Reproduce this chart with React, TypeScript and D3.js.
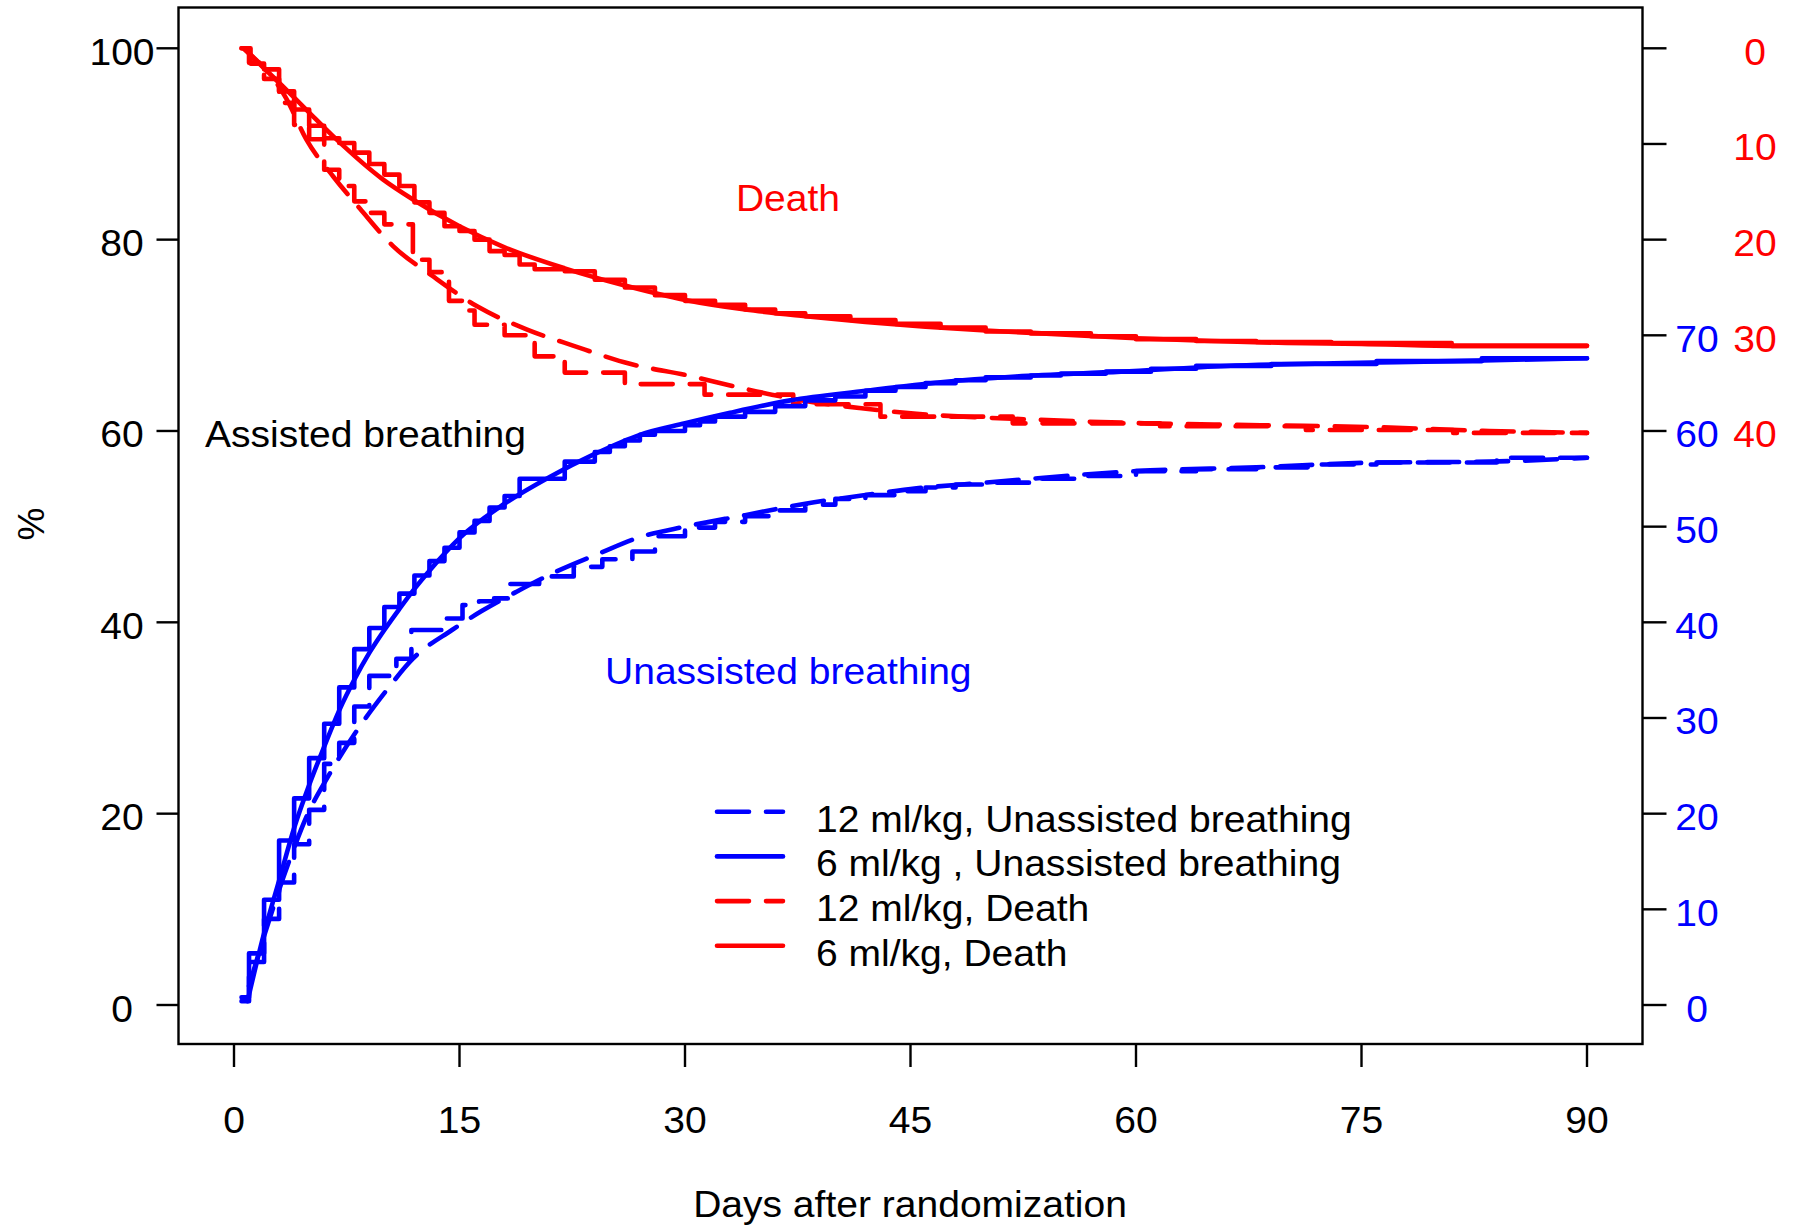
import React from "react";
import * as d3 from "d3";

// ---- data: days after randomization and percentages (left scale) ----
// Unassisted breathing, 6 ml/kg (Kaplan-Meier steps and smoothed fit)
const sixUnassistedStepDays = [0.5, 1, 2, 3, 4, 5, 6, 7, 8, 9, 10, 11, 12, 13, 14, 15, 16, 17, 18, 19, 22, 24, 25, 26, 27, 28, 30, 31, 32, 34, 36, 38, 40, 42, 44, 46, 48, 50, 53, 55, 58, 61, 64, 69, 76, 83, 90];
const sixUnassistedStepValues = [0.8, 5.4, 11.0, 17.2, 21.6, 25.8, 29.4, 33.2, 37.2, 39.4, 41.6, 43.0, 44.9, 46.4, 47.8, 49.4, 50.6, 52.0, 53.2, 55.0, 56.8, 57.8, 58.4, 59.0, 59.6, 60.0, 60.6, 61.0, 61.5, 62.0, 62.6, 63.2, 63.6, 64.2, 64.6, 65.0, 65.3, 65.6, 65.8, 66.0, 66.2, 66.5, 66.8, 67.0, 67.3, 67.6, 67.6];
const sixUnassistedFitDays = [0.9, 2, 3, 4, 5, 6, 7, 8, 9, 10, 11, 12, 13, 15, 18, 21, 24, 27, 30, 33, 37, 42, 47, 52, 59, 66, 74, 81, 90];
const sixUnassistedFitValues = [0.4, 7.5, 13, 18.5, 23, 27, 30.8, 34, 36.8, 39.2, 41.4, 43.5, 45.4, 48.8, 52.4, 55.2, 57.6, 59.6, 60.8, 61.9, 63.2, 64.2, 65.1, 65.7, 66.2, 66.8, 67.1, 67.3, 67.6];

// Unassisted breathing, 12 ml/kg
const twelveUnassistedStepDays = [0.5, 1, 2, 3, 4, 5, 6, 7, 8, 9, 10.8, 11.8, 14, 15.2, 16.3, 17.3, 18.3, 20.3, 22.6, 24.5, 26.5, 28, 30, 32, 34, 36, 38, 40, 42, 44, 46, 48, 50, 53, 56, 60, 64, 68, 72, 76, 84, 90];
const twelveUnassistedStepValues = [0.4, 4.5, 9.0, 12.8, 16.8, 20.4, 25.2, 27.4, 31.2, 34.4, 36.2, 39.2, 40.4, 41.8, 42.2, 42.5, 44.0, 44.8, 45.8, 46.6, 47.4, 49.0, 49.9, 50.5, 51.1, 51.7, 52.3, 52.9, 53.3, 53.7, 54.1, 54.4, 54.6, 55.0, 55.3, 55.8, 56.0, 56.2, 56.5, 56.7, 57.2, 57.2];
const twelveUnassistedFitDays = [1, 2, 3.8, 4.8, 6.3, 8.4, 10.1, 11.9, 14.5, 16.5, 18.8, 21.3, 24.3, 27, 30, 34, 38, 42, 45.4, 50, 53, 60, 68, 76, 83.5, 90];
const twelveUnassistedFitValues = [2, 7.2, 15.6, 19.6, 24, 29.2, 32.8, 36.2, 39.2, 41.2, 43.2, 45.2, 47.2, 48.9, 50, 51.2, 52.4, 53.3, 54, 54.6, 55, 55.8, 56.2, 56.7, 56.8, 57.2];

// Death, 6 ml/kg (plotted as 100 - cumulative death %)
const sixDeathStepDays = [0.5, 1.1, 2, 3, 4, 5, 6, 7, 8, 9, 10, 11, 12, 13, 14, 15, 16, 17, 18, 19, 20, 22, 24, 26, 28, 30, 32, 34, 36, 38, 41, 44, 47, 50, 53, 57, 60, 64, 68, 73, 81, 90];
const sixDeathStepValues = [100, 98.4, 97.8, 95.5, 93.6, 91.9, 90.6, 90.1, 89.1, 87.9, 86.8, 85.6, 83.9, 82.8, 81.4, 80.9, 80.0, 78.8, 78.4, 77.4, 76.9, 76.7, 75.8, 75.0, 74.2, 73.6, 73.2, 72.7, 72.3, 72.0, 71.6, 71.2, 70.8, 70.4, 70.2, 69.9, 69.6, 69.4, 69.3, 69.2, 68.9, 68.9];
const sixDeathFitDays = [0.7, 3, 4.8, 6.8, 9.9, 11.9, 15, 18, 22, 26, 30, 34, 38, 42, 46, 50, 55, 60, 65, 70, 75, 81, 90];
const sixDeathFitValues = [99.9, 96.4, 93.6, 90.5, 86.3, 84.2, 81.4, 79.2, 77.0, 75.2, 73.7, 72.7, 72.0, 71.4, 70.9, 70.5, 70.1, 69.7, 69.4, 69.2, 69.1, 68.9, 68.9];

// Death, 12 ml/kg
const twelveDeathStepDays = [0.5, 1, 2, 3, 4, 5, 6, 7, 8, 9, 10, 11.9, 13, 14.3, 15.5, 16, 18, 20, 22, 26, 31.3, 37.2, 43, 51.8, 61.6, 71.3, 81.1, 90];
const twelveDeathStepValues = [100, 98.5, 96.8, 94.3, 92.0, 90.5, 87.3, 85.6, 84.0, 82.8, 81.6, 77.9, 76.6, 73.6, 72.6, 71.1, 70.0, 67.8, 66.1, 64.9, 63.8, 62.8, 61.5, 60.8, 60.5, 60.1, 59.8, 59.8];
const twelveDeathFitDays = [0.7, 3.5, 4.8, 6.6, 8.4, 10.6, 13.2, 16.2, 19.5, 22.6, 26.4, 30.2, 34, 37.8, 41.6, 45.4, 53, 60.7, 68.3, 75.9, 83.5, 90];
const twelveDeathFitValues = [99.9, 94.7, 90.5, 86.6, 83.2, 79.3, 76.2, 73.0, 70.6, 68.9, 67.0, 65.8, 64.4, 63.2, 62.4, 61.8, 61.2, 60.8, 60.6, 60.4, 60.0, 59.8];

// ---- axes ----
const dayTicks = [0, 15, 30, 45, 60, 75, 90];
const percentTicks = [0, 20, 40, 60, 80, 100];
const rightTicks = [0, 10, 20, 30, 40, 50, 60, 70, 80, 90, 100];
const deathTickPositions = [100, 90, 80, 70, 60]; // red labels = 100 - position
const unassistedTickPositions = [70, 60, 50, 40, 30, 20, 10, 0];

const BLUE = "#0000ff";
const RED = "#ff0000";
const DASH = "32,17";
const FONT = "'Liberation Sans', Arial, Helvetica, sans-serif";
const FONT_SIZE = 37;
const STRETCH = 1.055; // glyphs are set slightly wide

const legendItems = [
  { label: "12 ml/kg, Unassisted breathing", color: BLUE, dashed: true },
  { label: "6 ml/kg , Unassisted breathing", color: BLUE, dashed: false },
  { label: "12 ml/kg, Death", color: RED, dashed: true },
  { label: "6 ml/kg, Death", color: RED, dashed: false },
];

type Series = {
  color: string;
  dashed: boolean;
  stepDays: number[];
  stepValues: number[];
  fitDays: number[];
  fitValues: number[];
};

const seriesList: Series[] = [
  { color: RED, dashed: false, stepDays: sixDeathStepDays, stepValues: sixDeathStepValues, fitDays: sixDeathFitDays, fitValues: sixDeathFitValues },
  { color: RED, dashed: true, stepDays: twelveDeathStepDays, stepValues: twelveDeathStepValues, fitDays: twelveDeathFitDays, fitValues: twelveDeathFitValues },
  { color: BLUE, dashed: false, stepDays: sixUnassistedStepDays, stepValues: sixUnassistedStepValues, fitDays: sixUnassistedFitDays, fitValues: sixUnassistedFitValues },
  { color: BLUE, dashed: true, stepDays: twelveUnassistedStepDays, stepValues: twelveUnassistedStepValues, fitDays: twelveUnassistedFitDays, fitValues: twelveUnassistedFitValues },
];

function Label(props: { x: number; y: number; fill?: string; anchor?: "start" | "middle" | "end"; children: React.ReactNode }) {
  const { x, y, fill = "#000", anchor = "start", children } = props;
  return (
    <g transform={`translate(${x},${y}) scale(${STRETCH},1)`}>
      <text x={0} y={0} textAnchor={anchor} fill={fill} fontFamily={FONT} fontSize={FONT_SIZE}>
        {children}
      </text>
    </g>
  );
}

export default function App() {
  const width = 1797;
  const height = 1230;
  const box = { left: 178.5, right: 1642.5, top: 7.5, bottom: 1044 };

  const x = d3.scaleLinear().domain([0, 90]).range([234, 1587]);
  const y = d3.scaleLinear().domain([0, 100]).range([1005, 48.3]);

  const zip = (xs: number[], ys: number[]) => xs.map((d, i) => [d, ys[i]] as [number, number]);

  const stepLine = d3
    .line<[number, number]>()
    .x((d) => x(d[0]))
    .y((d) => y(d[1]))
    .curve(d3.curveStepAfter);
  const fitLine = d3
    .line<[number, number]>()
    .x((d) => x(d[0]))
    .y((d) => y(d[1]))
    .curve(d3.curveMonotoneX);

  return (
    <svg
      width={width}
      height={height}
      viewBox={`0 0 ${width} ${height}`}
      style={{ position: "absolute", left: 0, top: 0, background: "#fff" }}
    >
      <rect x={0} y={0} width={width} height={height} fill="#fff" />

      {/* curves */}
      {seriesList.map((s, i) => (
        <g key={i} fill="none" stroke={s.color} strokeWidth={4.6} strokeLinecap="round" strokeLinejoin="round" strokeDasharray={s.dashed ? DASH : undefined}>
          <path d={stepLine(zip(s.stepDays, s.stepValues)) || ""} />
          <path d={fitLine(zip(s.fitDays, s.fitValues)) || ""} />
        </g>
      ))}

      {/* frame */}
      <rect
        x={box.left}
        y={box.top}
        width={box.right - box.left}
        height={box.bottom - box.top}
        fill="none"
        stroke="#000"
        strokeWidth={2.4}
      />

      {/* left axis */}
      {percentTicks.map((t) => (
        <g key={`l${t}`}>
          <line x1={box.left - 22} x2={box.left} y1={y(t)} y2={y(t)} stroke="#000" strokeWidth={2.4} />
          <Label x={122} y={y(t) + 16.5} anchor="middle">{t}</Label>
        </g>
      ))}

      {/* bottom axis */}
      {dayTicks.map((t) => (
        <g key={`b${t}`}>
          <line x1={x(t)} x2={x(t)} y1={box.bottom} y2={box.bottom + 23} stroke="#000" strokeWidth={2.4} />
          <Label x={x(t)} y={1133} anchor="middle">{t}</Label>
        </g>
      ))}

      {/* right axis */}
      {rightTicks.map((t) => (
        <line key={`r${t}`} x1={box.right} x2={box.right + 24} y1={y(t)} y2={y(t)} stroke="#000" strokeWidth={2.4} />
      ))}
      {deathTickPositions.map((t) => (
        <Label key={`rd${t}`} x={1755} y={y(t) + 16.5} anchor="middle" fill={RED}>
          {100 - t}
        </Label>
      ))}
      {unassistedTickPositions.map((t) => (
        <Label key={`ru${t}`} x={1697} y={y(t) + 16.5} anchor="middle" fill={BLUE}>
          {t}
        </Label>
      ))}

      {/* axis titles */}
      <Label x={910} y={1217} anchor="middle">Days after randomization</Label>
      <text transform="translate(44,524) rotate(-90)" textAnchor="middle" fill="#000" fontFamily={FONT} fontSize={FONT_SIZE}>
        %
      </text>

      {/* in-plot annotations */}
      <Label x={788} y={211} anchor="middle" fill={RED}>Death</Label>
      <Label x={205} y={447}>Assisted breathing</Label>
      <Label x={605} y={684} fill={BLUE}>Unassisted breathing</Label>

      {/* legend */}
      {legendItems.map((item, i) => {
        const ly = 811.7 + i * 44.7;
        return (
          <g key={item.label}>
            <line
              x1={717}
              x2={783}
              y1={ly}
              y2={ly}
              stroke={item.color}
              strokeWidth={4.6}
              strokeLinecap="round"
              strokeDasharray={item.dashed ? DASH : undefined}
            />
            <Label x={816} y={ly + 20}>{item.label}</Label>
          </g>
        );
      })}
    </svg>
  );
}
